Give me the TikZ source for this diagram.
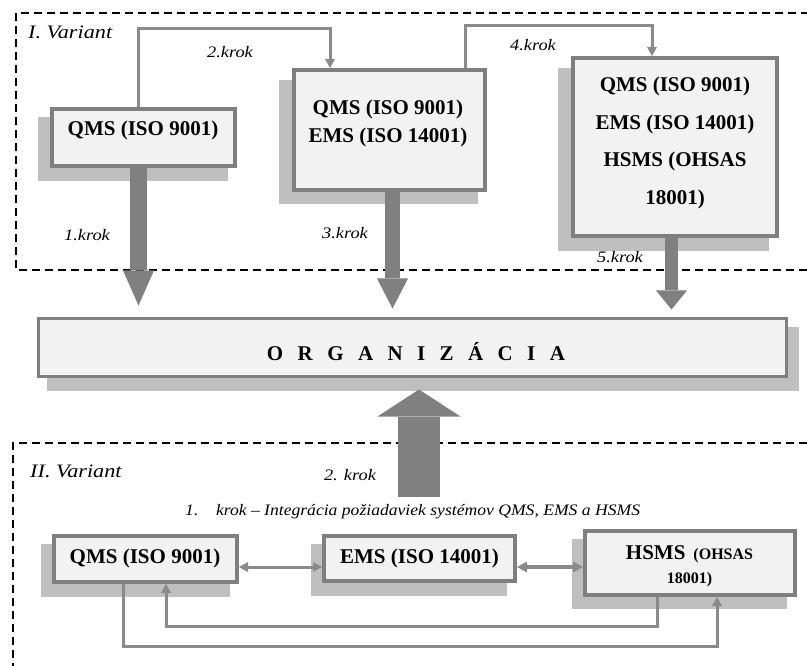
\documentclass[tikz,border=0pt]{standalone}
\usepackage{fontspec}
\setmainfont{Liberation Serif}
\usetikzlibrary{arrows.meta,calc}
\definecolor{boxfill}{HTML}{F2F2F2}
\definecolor{boxline}{HTML}{7F7F7F}
\definecolor{shadowgray}{HTML}{BFBFBF}
\definecolor{arrgray}{HTML}{808080}
\definecolor{conngray}{HTML}{8A8A8A}
\tikzset{
  sysbox/.style={draw=boxline, line width=4pt, fill=boxfill, inner sep=0pt},
  orgbox/.style={draw=boxline, line width=3pt, fill=boxfill, inner sep=0pt},
  shadowbox/.style={fill=shadowgray},
  boxtext/.style={inner sep=0pt, align=center, font=\fontsize{21}{25}\selectfont\bfseries},
  steplbl/.style={inner sep=0pt, font=\fontsize{16}{19}\selectfont\itshape},
  varlbl/.style={inner sep=0pt, anchor=west, font=\fontsize{19}{22}\selectfont\itshape},
  conn/.style={draw=conngray, line width=3pt},
  smalltip/.style={-{Triangle[width=10pt,length=9pt,line width=0pt]}},
  dashframe/.style={draw=black, line width=1.3pt, dash pattern=on 8pt off 5pt},
}
\newcommand\lsp{\hspace{14.4pt}}
\newcommand\wide[2]{\scalebox{#1}[1]{#2}}
\begin{document}
\begin{tikzpicture}[x=1pt,y=-1pt]
\clip (0,0) rectangle (807,666);
\fill[white] (0,0) rectangle (807,666);

% dashed frames
\draw[dashframe] (820,270) -- (16,270) -- (16,13) -- (820,13);
\draw[dashframe] (820,443) -- (13,443) -- (13,680);

% shadows
\fill[shadowbox] (38,117) rectangle (228,181);
\fill[shadowbox] (279,80) rectangle (478,204);
\fill[shadowbox] (558,68) rectangle (769,251);
\fill[shadowbox] (47,327) rectangle (799,391);
\fill[shadowbox] (41,544) rectangle (230,597);
\fill[shadowbox] (311,544) rectangle (507,596);
\fill[shadowbox] (572,539) rectangle (787,609);

% boxes
\node[sysbox, minimum width=183pt, minimum height=57pt] (q1) at (143.5,137.5) {};
\node[sysbox, minimum width=191pt, minimum height=120pt] (qe) at (389.5,130) {};
\node[sysbox, minimum width=204pt, minimum height=178pt] (qeh) at (675,147) {};
\node[orgbox, minimum width=748pt, minimum height=58pt] (org) at (412.5,347.5) {};
\node[sysbox, minimum width=183pt, minimum height=46pt] (q2) at (145.5,559) {};
\node[sysbox, minimum width=191pt, minimum height=45pt] (e2) at (419.5,558.5) {};
\node[sysbox, minimum width=210pt, minimum height=64pt] (h2) at (690,563) {};

% thick arrows to organisation
\draw[arrgray, line width=17pt, -{Triangle[width=31pt,length=35pt,line width=0pt]}, shorten >=11.5pt]
  ([xshift=-5pt]q1.south) -- ([xshift=-5pt]q1.south |- org.north);
\draw[arrgray, line width=15pt, -{Triangle[width=31pt,length=30pt,line width=0pt]}, shorten >=8.5pt]
  ([xshift=3pt]qe.south) -- ([xshift=3pt]qe.south |- org.north);
\draw[arrgray, line width=13pt, -{Triangle[width=31pt,length=19pt,line width=0pt]}, shorten >=7.5pt]
  ([xshift=-3.5pt]qeh.south) -- ([xshift=-3.5pt]qeh.south |- org.north);
\coordinate (s2) at (419,497);
\draw[arrgray, line width=42pt, -{Triangle[width=83pt,length=27pt,line width=0pt]}, shorten >=11.5pt]
  (s2) -- (s2 |- org.south);

% redraw boxes over arrow starts
\node[sysbox, minimum width=183pt, minimum height=57pt] at (q1) {};
\node[sysbox, minimum width=191pt, minimum height=120pt] at (qe) {};
\node[sysbox, minimum width=204pt, minimum height=178pt] at (qeh) {};

% thin connectors top
\draw[conn, smalltip] ([xshift=-5.5pt]q1.north) -- ++(0,-78) -| ([xshift=-59.5pt]qe.north);
\draw[conn, smalltip] ([xshift=75.5pt]qe.north) -- ++(0,-42) -| ([xshift=-23pt]qeh.north);

% bottom connectors
\draw[conn, {Triangle[width=10pt,length=9pt,line width=0pt]}-{Triangle[width=10pt,length=9pt,line width=0pt]}]
  ([yshift=-8pt]q2.east) -- ([yshift=-8pt]q2.east -| e2.west);
\draw[conn, line width=3.5pt, {Triangle[width=11pt,length=10pt,line width=0pt]}-{Triangle[width=11pt,length=10pt,line width=0pt]}]
  ([yshift=-8.5pt]e2.east) -- ([yshift=-8.5pt]e2.east -| h2.west);
\draw[conn, smalltip] ([xshift=-33pt]h2.south) -- ++(0,29) -| ([xshift=20.5pt]q2.south);
\draw[conn, smalltip] ([xshift=-22.5pt]q2.south) -- ++(0,62) -| ([xshift=27pt]h2.south);

% texts
\node[boxtext] (t1) at (143,130) {QMS (ISO 9001)};
\node[boxtext, font=\fontsize{21}{28}\selectfont\bfseries] (t2) at (388,123) {QMS (ISO 9001)\\EMS (ISO 14001)};
\node[boxtext, font=\fontsize{21}{37.5}\selectfont\bfseries] (t3) at (675,143) {QMS (ISO 9001)\\EMS (ISO 14001)\\HSMS (OHSAS\\18001)};
\node[boxtext] (t4) at (416,352) {O\lsp R\lsp G\lsp A\lsp N\lsp I\lsp Z\lsp Á\lsp C\lsp I\lsp A};
\node[boxtext] (t5) at (145,558) {QMS (ISO 9001)};
\node[boxtext] (t6) at (419.5,558) {EMS (ISO 14001)};
\node[boxtext, font=\fontsize{21}{24}\selectfont\bfseries] (t7) at (689.5,566) {HSMS\hspace{8pt}{\fontsize{16}{24}\selectfont(OHSAS}\\{\fontsize{16}{24}\selectfont 18001)}};

% labels
\node[varlbl] (v1) at (28,32) {\wide{1.17}{I. Variant}};
\node[varlbl] (v2) at (30,471) {\wide{1.17}{II. Variant}};
\node[steplbl] (k1) at (87,235) {\wide{1.15}{1.krok}};
\node[steplbl] (k2) at (230,52) {\wide{1.15}{2.krok}};
\node[steplbl] (k3) at (345,233) {\wide{1.15}{3.krok}};
\node[steplbl] (k4) at (533,45) {\wide{1.15}{4.krok}};
\node[steplbl] (k5) at (620,257) {\wide{1.15}{5.krok}};
\node[steplbl] (k6) at (350,475) {\wide{1.15}{2. krok}};
\node[steplbl, anchor=west] (cap) at (185,512) {\wide{1.1}{1.\hspace{16pt}krok – Integrácia požiadaviek systémov QMS, EMS a HSMS}};
\end{tikzpicture}
\end{document}
